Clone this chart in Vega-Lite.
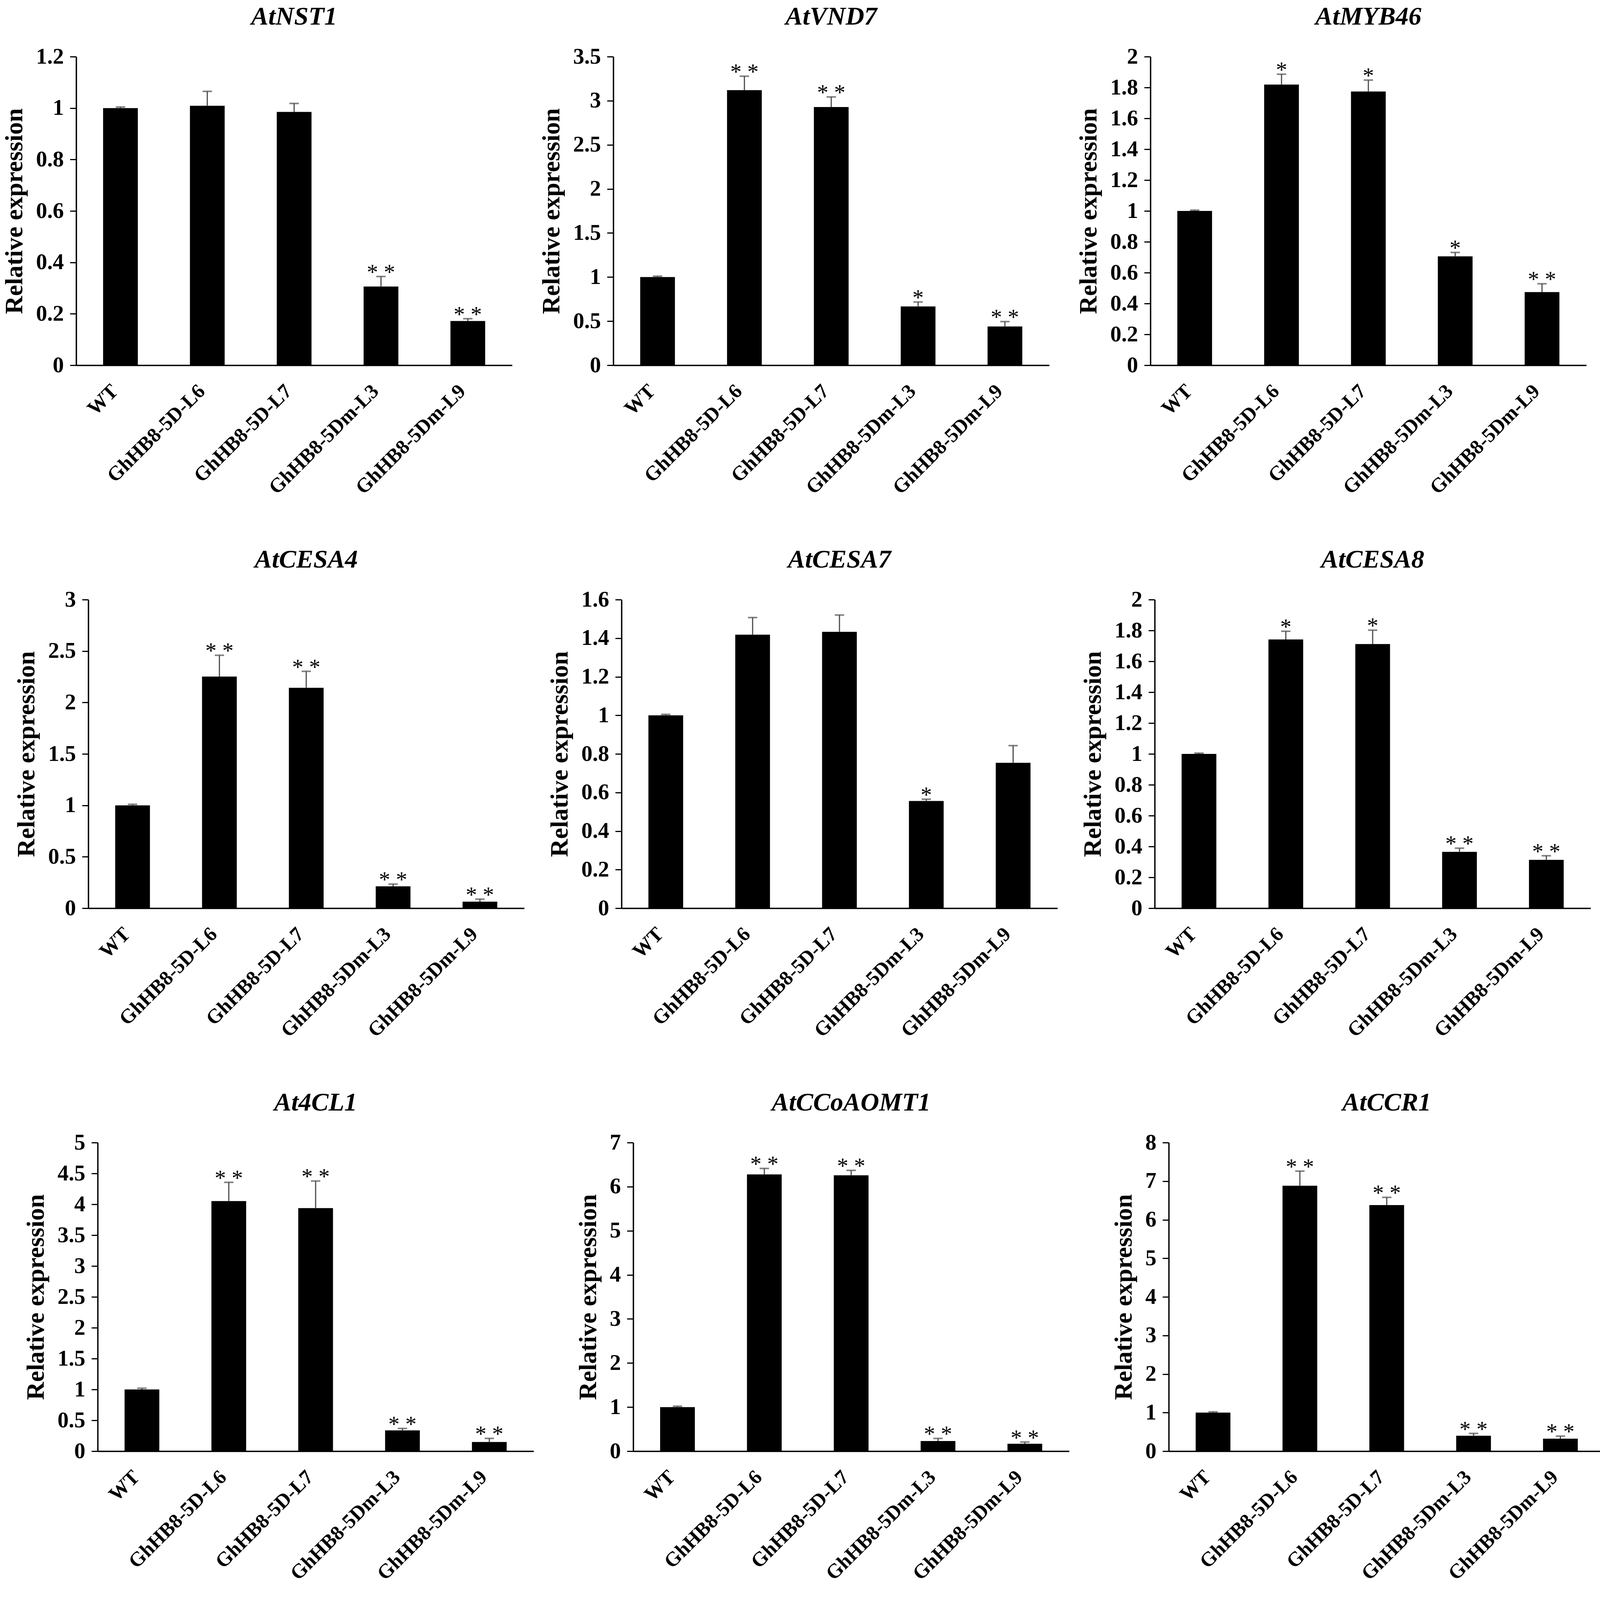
{
  "$schema": "https://vega.github.io/schema/vega-lite/v6.json",
  "background": "white",
  "padding": {"left": -70, "top": 10, "right": 5, "bottom": 5},
  "spacing": 125,
  "datasets": {
    "expr": [
      {"gene": "AtNST1", "line": "WT", "value": 1.0, "hi": 1.004, "sig": ""},
      {"gene": "AtNST1", "line": "GhHB8-5D-L6", "value": 1.009, "hi": 1.065, "sig": ""},
      {"gene": "AtNST1", "line": "GhHB8-5D-L7", "value": 0.985, "hi": 1.018, "sig": ""},
      {"gene": "AtNST1", "line": "GhHB8-5Dm-L3", "value": 0.306, "hi": 0.345, "sig": "* *"},
      {"gene": "AtNST1", "line": "GhHB8-5Dm-L9", "value": 0.172, "hi": 0.181, "sig": "* *"},
      {"gene": "AtVND7", "line": "WT", "value": 1.0, "hi": 1.01, "sig": ""},
      {"gene": "AtVND7", "line": "GhHB8-5D-L6", "value": 3.12, "hi": 3.278, "sig": "* *"},
      {"gene": "AtVND7", "line": "GhHB8-5D-L7", "value": 2.928, "hi": 3.043, "sig": "* *"},
      {"gene": "AtVND7", "line": "GhHB8-5Dm-L3", "value": 0.667, "hi": 0.717, "sig": "*"},
      {"gene": "AtVND7", "line": "GhHB8-5Dm-L9", "value": 0.44, "hi": 0.495, "sig": "* *"},
      {"gene": "AtMYB46", "line": "WT", "value": 1.0, "hi": 1.005, "sig": ""},
      {"gene": "AtMYB46", "line": "GhHB8-5D-L6", "value": 1.819, "hi": 1.886, "sig": "*"},
      {"gene": "AtMYB46", "line": "GhHB8-5D-L7", "value": 1.774, "hi": 1.848, "sig": "*"},
      {"gene": "AtMYB46", "line": "GhHB8-5Dm-L3", "value": 0.706, "hi": 0.731, "sig": "*"},
      {"gene": "AtMYB46", "line": "GhHB8-5Dm-L9", "value": 0.474, "hi": 0.528, "sig": "* *"},
      {"gene": "AtCESA4", "line": "WT", "value": 1.0, "hi": 1.01, "sig": ""},
      {"gene": "AtCESA4", "line": "GhHB8-5D-L6", "value": 2.252, "hi": 2.459, "sig": "* *"},
      {"gene": "AtCESA4", "line": "GhHB8-5D-L7", "value": 2.143, "hi": 2.303, "sig": "* *"},
      {"gene": "AtCESA4", "line": "GhHB8-5Dm-L3", "value": 0.213, "hi": 0.234, "sig": "* *"},
      {"gene": "AtCESA4", "line": "GhHB8-5Dm-L9", "value": 0.064, "hi": 0.088, "sig": "* *"},
      {"gene": "AtCESA7", "line": "WT", "value": 1.0, "hi": 1.005, "sig": ""},
      {"gene": "AtCESA7", "line": "GhHB8-5D-L6", "value": 1.418, "hi": 1.507, "sig": ""},
      {"gene": "AtCESA7", "line": "GhHB8-5D-L7", "value": 1.433, "hi": 1.52, "sig": ""},
      {"gene": "AtCESA7", "line": "GhHB8-5Dm-L3", "value": 0.556, "hi": 0.565, "sig": "*"},
      {"gene": "AtCESA7", "line": "GhHB8-5Dm-L9", "value": 0.754, "hi": 0.843, "sig": ""},
      {"gene": "AtCESA8", "line": "WT", "value": 1.0, "hi": 1.005, "sig": ""},
      {"gene": "AtCESA8", "line": "GhHB8-5D-L6", "value": 1.742, "hi": 1.795, "sig": "*"},
      {"gene": "AtCESA8", "line": "GhHB8-5D-L7", "value": 1.712, "hi": 1.802, "sig": "*"},
      {"gene": "AtCESA8", "line": "GhHB8-5Dm-L3", "value": 0.365, "hi": 0.389, "sig": "* *"},
      {"gene": "AtCESA8", "line": "GhHB8-5Dm-L9", "value": 0.313, "hi": 0.34, "sig": "* *"},
      {"gene": "At4CL1", "line": "WT", "value": 1.0, "hi": 1.02, "sig": ""},
      {"gene": "At4CL1", "line": "GhHB8-5D-L6", "value": 4.053, "hi": 4.356, "sig": "* *"},
      {"gene": "At4CL1", "line": "GhHB8-5D-L7", "value": 3.939, "hi": 4.377, "sig": "* *"},
      {"gene": "At4CL1", "line": "GhHB8-5Dm-L3", "value": 0.337, "hi": 0.368, "sig": "* *"},
      {"gene": "At4CL1", "line": "GhHB8-5Dm-L9", "value": 0.148, "hi": 0.207, "sig": "* *"},
      {"gene": "AtCCoAOMT1", "line": "WT", "value": 1.0, "hi": 1.02, "sig": ""},
      {"gene": "AtCCoAOMT1", "line": "GhHB8-5D-L6", "value": 6.278, "hi": 6.413, "sig": "* *"},
      {"gene": "AtCCoAOMT1", "line": "GhHB8-5D-L7", "value": 6.258, "hi": 6.37, "sig": "* *"},
      {"gene": "AtCCoAOMT1", "line": "GhHB8-5Dm-L3", "value": 0.231, "hi": 0.289, "sig": "* *"},
      {"gene": "AtCCoAOMT1", "line": "GhHB8-5Dm-L9", "value": 0.169, "hi": 0.207, "sig": "* *"},
      {"gene": "AtCCR1", "line": "WT", "value": 1.0, "hi": 1.02, "sig": ""},
      {"gene": "AtCCR1", "line": "GhHB8-5D-L6", "value": 6.88, "hi": 7.26, "sig": "* *"},
      {"gene": "AtCCR1", "line": "GhHB8-5D-L7", "value": 6.38, "hi": 6.58, "sig": "* *"},
      {"gene": "AtCCR1", "line": "GhHB8-5Dm-L3", "value": 0.4, "hi": 0.46, "sig": "* *"},
      {"gene": "AtCCR1", "line": "GhHB8-5Dm-L9", "value": 0.325, "hi": 0.39, "sig": "* *"}
    ]
  },
  "vconcat": [
    {
      "spacing": 69,
      "hconcat": [
        {"width": 6, "height": 10, "data": {"values": [{"a": 1}]}, "mark": {"type": "point", "opacity": 0, "size": 1}},
        {
          "title": "AtNST1", "width": 1116, "height": 790, "data": {"name": "expr"},
          "transform": [{"filter": "datum.gene === 'AtNST1'"}],
          "encoding": {
            "x": {"field": "line", "type": "nominal", "sort": ["WT", "GhHB8-5D-L6", "GhHB8-5D-L7", "GhHB8-5Dm-L3", "GhHB8-5Dm-L9"], "axis": {"title": null}},
            "y": {"field": "value", "type": "quantitative", "title": "Relative expression", "scale": {"domain": [0, 1.2]}, "axis": {"format": "~g", "values": [0, 0.2, 0.4, 0.6, 0.8, 1, 1.2]}}
          },
          "layer": [
            {"mark": {"type": "bar", "color": "black"}},
            {"mark": {"type": "rule", "color": "#4d4d4d", "strokeWidth": 3}, "encoding": {"y": {"field": "hi", "type": "quantitative", "title": "Relative expression"}, "y2": {"field": "value"}}},
            {"mark": {"type": "tick", "color": "#4d4d4d", "thickness": 4, "size": 24}, "encoding": {"y": {"field": "hi", "type": "quantitative", "title": "Relative expression"}}},
            {"mark": {"type": "text", "font": "Liberation Serif", "fontSize": 58, "baseline": "alphabetic", "dy": 8, "color": "black"}, "encoding": {"y": {"field": "hi", "type": "quantitative", "title": "Relative expression"}, "text": {"field": "sig"}}}
          ]
        },
        {
          "title": "AtVND7", "width": 1116, "height": 790, "data": {"name": "expr"},
          "transform": [{"filter": "datum.gene === 'AtVND7'"}],
          "encoding": {
            "x": {"field": "line", "type": "nominal", "sort": ["WT", "GhHB8-5D-L6", "GhHB8-5D-L7", "GhHB8-5Dm-L3", "GhHB8-5Dm-L9"], "axis": {"title": null}},
            "y": {"field": "value", "type": "quantitative", "title": "Relative expression", "scale": {"domain": [0, 3.5]}, "axis": {"format": "~g", "values": [0, 0.5, 1, 1.5, 2, 2.5, 3, 3.5]}}
          },
          "layer": [
            {"mark": {"type": "bar", "color": "black"}},
            {"mark": {"type": "rule", "color": "#4d4d4d", "strokeWidth": 3}, "encoding": {"y": {"field": "hi", "type": "quantitative", "title": "Relative expression"}, "y2": {"field": "value"}}},
            {"mark": {"type": "tick", "color": "#4d4d4d", "thickness": 4, "size": 24}, "encoding": {"y": {"field": "hi", "type": "quantitative", "title": "Relative expression"}}},
            {"mark": {"type": "text", "font": "Liberation Serif", "fontSize": 58, "baseline": "alphabetic", "dy": 8, "color": "black"}, "encoding": {"y": {"field": "hi", "type": "quantitative", "title": "Relative expression"}, "text": {"field": "sig"}}}
          ]
        },
        {
          "title": "AtMYB46", "width": 1116, "height": 790, "data": {"name": "expr"},
          "transform": [{"filter": "datum.gene === 'AtMYB46'"}],
          "encoding": {
            "x": {"field": "line", "type": "nominal", "sort": ["WT", "GhHB8-5D-L6", "GhHB8-5D-L7", "GhHB8-5Dm-L3", "GhHB8-5Dm-L9"], "axis": {"title": null}},
            "y": {"field": "value", "type": "quantitative", "title": "Relative expression", "scale": {"domain": [0, 2]}, "axis": {"format": "~g", "values": [0, 0.2, 0.4, 0.6, 0.8, 1, 1.2, 1.4, 1.6, 1.8, 2]}}
          },
          "layer": [
            {"mark": {"type": "bar", "color": "black"}},
            {"mark": {"type": "rule", "color": "#4d4d4d", "strokeWidth": 3}, "encoding": {"y": {"field": "hi", "type": "quantitative", "title": "Relative expression"}, "y2": {"field": "value"}}},
            {"mark": {"type": "tick", "color": "#4d4d4d", "thickness": 4, "size": 24}, "encoding": {"y": {"field": "hi", "type": "quantitative", "title": "Relative expression"}}},
            {"mark": {"type": "text", "font": "Liberation Serif", "fontSize": 58, "baseline": "alphabetic", "dy": 8, "color": "black"}, "encoding": {"y": {"field": "hi", "type": "quantitative", "title": "Relative expression"}, "text": {"field": "sig"}}}
          ]
        }
      ]
    },
    {
      "spacing": 59,
      "hconcat": [
        {"width": 47, "height": 10, "data": {"values": [{"a": 1}]}, "mark": {"type": "point", "opacity": 0, "size": 1}},
        {
          "title": "AtCESA4", "width": 1116, "height": 790, "data": {"name": "expr"},
          "transform": [{"filter": "datum.gene === 'AtCESA4'"}],
          "encoding": {
            "x": {"field": "line", "type": "nominal", "sort": ["WT", "GhHB8-5D-L6", "GhHB8-5D-L7", "GhHB8-5Dm-L3", "GhHB8-5Dm-L9"], "axis": {"title": null}},
            "y": {"field": "value", "type": "quantitative", "title": "Relative expression", "scale": {"domain": [0, 3]}, "axis": {"format": "~g", "values": [0, 0.5, 1, 1.5, 2, 2.5, 3]}}
          },
          "layer": [
            {"mark": {"type": "bar", "color": "black"}},
            {"mark": {"type": "rule", "color": "#4d4d4d", "strokeWidth": 3}, "encoding": {"y": {"field": "hi", "type": "quantitative", "title": "Relative expression"}, "y2": {"field": "value"}}},
            {"mark": {"type": "tick", "color": "#4d4d4d", "thickness": 4, "size": 24}, "encoding": {"y": {"field": "hi", "type": "quantitative", "title": "Relative expression"}}},
            {"mark": {"type": "text", "font": "Liberation Serif", "fontSize": 58, "baseline": "alphabetic", "dy": 8, "color": "black"}, "encoding": {"y": {"field": "hi", "type": "quantitative", "title": "Relative expression"}, "text": {"field": "sig"}}}
          ]
        },
        {
          "title": "AtCESA7", "width": 1116, "height": 790, "data": {"name": "expr"},
          "transform": [{"filter": "datum.gene === 'AtCESA7'"}],
          "encoding": {
            "x": {"field": "line", "type": "nominal", "sort": ["WT", "GhHB8-5D-L6", "GhHB8-5D-L7", "GhHB8-5Dm-L3", "GhHB8-5Dm-L9"], "axis": {"title": null}},
            "y": {"field": "value", "type": "quantitative", "title": "Relative expression", "scale": {"domain": [0, 1.6]}, "axis": {"format": "~g", "values": [0, 0.2, 0.4, 0.6, 0.8, 1, 1.2, 1.4, 1.6]}}
          },
          "layer": [
            {"mark": {"type": "bar", "color": "black"}},
            {"mark": {"type": "rule", "color": "#4d4d4d", "strokeWidth": 3}, "encoding": {"y": {"field": "hi", "type": "quantitative", "title": "Relative expression"}, "y2": {"field": "value"}}},
            {"mark": {"type": "tick", "color": "#4d4d4d", "thickness": 4, "size": 24}, "encoding": {"y": {"field": "hi", "type": "quantitative", "title": "Relative expression"}}},
            {"mark": {"type": "text", "font": "Liberation Serif", "fontSize": 58, "baseline": "alphabetic", "dy": 8, "color": "black"}, "encoding": {"y": {"field": "hi", "type": "quantitative", "title": "Relative expression"}, "text": {"field": "sig"}}}
          ]
        },
        {
          "title": "AtCESA8", "width": 1116, "height": 790, "data": {"name": "expr"},
          "transform": [{"filter": "datum.gene === 'AtCESA8'"}],
          "encoding": {
            "x": {"field": "line", "type": "nominal", "sort": ["WT", "GhHB8-5D-L6", "GhHB8-5D-L7", "GhHB8-5Dm-L3", "GhHB8-5Dm-L9"], "axis": {"title": null}},
            "y": {"field": "value", "type": "quantitative", "title": "Relative expression", "scale": {"domain": [0, 2]}, "axis": {"format": "~g", "values": [0, 0.2, 0.4, 0.6, 0.8, 1, 1.2, 1.4, 1.6, 1.8, 2]}}
          },
          "layer": [
            {"mark": {"type": "bar", "color": "black"}},
            {"mark": {"type": "rule", "color": "#4d4d4d", "strokeWidth": 3}, "encoding": {"y": {"field": "hi", "type": "quantitative", "title": "Relative expression"}, "y2": {"field": "value"}}},
            {"mark": {"type": "tick", "color": "#4d4d4d", "thickness": 4, "size": 24}, "encoding": {"y": {"field": "hi", "type": "quantitative", "title": "Relative expression"}}},
            {"mark": {"type": "text", "font": "Liberation Serif", "fontSize": 58, "baseline": "alphabetic", "dy": 8, "color": "black"}, "encoding": {"y": {"field": "hi", "type": "quantitative", "title": "Relative expression"}, "text": {"field": "sig"}}}
          ]
        }
      ]
    },
    {
      "spacing": 108,
      "hconcat": [
        {"width": 22, "height": 10, "data": {"values": [{"a": 1}]}, "mark": {"type": "point", "opacity": 0, "size": 1}},
        {
          "title": "At4CL1", "width": 1116, "height": 790, "data": {"name": "expr"},
          "transform": [{"filter": "datum.gene === 'At4CL1'"}],
          "encoding": {
            "x": {"field": "line", "type": "nominal", "sort": ["WT", "GhHB8-5D-L6", "GhHB8-5D-L7", "GhHB8-5Dm-L3", "GhHB8-5Dm-L9"], "axis": {"title": null}},
            "y": {"field": "value", "type": "quantitative", "title": "Relative expression", "scale": {"domain": [0, 5]}, "axis": {"format": "~g", "values": [0, 0.5, 1, 1.5, 2, 2.5, 3, 3.5, 4, 4.5, 5]}}
          },
          "layer": [
            {"mark": {"type": "bar", "color": "black"}},
            {"mark": {"type": "rule", "color": "#4d4d4d", "strokeWidth": 3}, "encoding": {"y": {"field": "hi", "type": "quantitative", "title": "Relative expression"}, "y2": {"field": "value"}}},
            {"mark": {"type": "tick", "color": "#4d4d4d", "thickness": 4, "size": 24}, "encoding": {"y": {"field": "hi", "type": "quantitative", "title": "Relative expression"}}},
            {"mark": {"type": "text", "font": "Liberation Serif", "fontSize": 58, "baseline": "alphabetic", "dy": 8, "color": "black"}, "encoding": {"y": {"field": "hi", "type": "quantitative", "title": "Relative expression"}, "text": {"field": "sig"}}}
          ]
        },
        {
          "title": "AtCCoAOMT1", "width": 1116, "height": 790, "data": {"name": "expr"},
          "transform": [{"filter": "datum.gene === 'AtCCoAOMT1'"}],
          "encoding": {
            "x": {"field": "line", "type": "nominal", "sort": ["WT", "GhHB8-5D-L6", "GhHB8-5D-L7", "GhHB8-5Dm-L3", "GhHB8-5Dm-L9"], "axis": {"title": null}},
            "y": {"field": "value", "type": "quantitative", "title": "Relative expression", "scale": {"domain": [0, 7]}, "axis": {"format": "~g", "values": [0, 1, 2, 3, 4, 5, 6, 7]}}
          },
          "layer": [
            {"mark": {"type": "bar", "color": "black"}},
            {"mark": {"type": "rule", "color": "#4d4d4d", "strokeWidth": 3}, "encoding": {"y": {"field": "hi", "type": "quantitative", "title": "Relative expression"}, "y2": {"field": "value"}}},
            {"mark": {"type": "tick", "color": "#4d4d4d", "thickness": 4, "size": 24}, "encoding": {"y": {"field": "hi", "type": "quantitative", "title": "Relative expression"}}},
            {"mark": {"type": "text", "font": "Liberation Serif", "fontSize": 58, "baseline": "alphabetic", "dy": 8, "color": "black"}, "encoding": {"y": {"field": "hi", "type": "quantitative", "title": "Relative expression"}, "text": {"field": "sig"}}}
          ]
        },
        {
          "title": "AtCCR1", "width": 1116, "height": 790, "data": {"name": "expr"},
          "transform": [{"filter": "datum.gene === 'AtCCR1'"}],
          "encoding": {
            "x": {"field": "line", "type": "nominal", "sort": ["WT", "GhHB8-5D-L6", "GhHB8-5D-L7", "GhHB8-5Dm-L3", "GhHB8-5Dm-L9"], "axis": {"title": null}},
            "y": {"field": "value", "type": "quantitative", "title": "Relative expression", "scale": {"domain": [0, 8]}, "axis": {"format": "~g", "values": [0, 1, 2, 3, 4, 5, 6, 7, 8]}}
          },
          "layer": [
            {"mark": {"type": "bar", "color": "black"}},
            {"mark": {"type": "rule", "color": "#4d4d4d", "strokeWidth": 3}, "encoding": {"y": {"field": "hi", "type": "quantitative", "title": "Relative expression"}, "y2": {"field": "value"}}},
            {"mark": {"type": "tick", "color": "#4d4d4d", "thickness": 4, "size": 24}, "encoding": {"y": {"field": "hi", "type": "quantitative", "title": "Relative expression"}}},
            {"mark": {"type": "text", "font": "Liberation Serif", "fontSize": 58, "baseline": "alphabetic", "dy": 8, "color": "black"}, "encoding": {"y": {"field": "hi", "type": "quantitative", "title": "Relative expression"}, "text": {"field": "sig"}}}
          ]
        }
      ]
    }
  ],
  "config": {
    "view": {"stroke": null},
    "font": "Liberation Serif",
    "scale": {"bandPaddingInner": 0.6, "bandPaddingOuter": 0.31},
    "title": {"font": "Liberation Serif", "fontSize": 66, "fontWeight": "bold", "fontStyle": "italic", "color": "black", "frame": "group", "anchor": "middle", "offset": 39},
    "axis": {"domainColor": "black", "domainWidth": 3.5, "labelFont": "Liberation Serif", "labelFontWeight": "bold", "labelColor": "black", "titleFont": "Liberation Serif", "titleColor": "black", "grid": false, "labelOverlap": false, "labelLimit": 0},
    "axisY": {"tickColor": "black", "tickWidth": 3, "tickSize": 16, "labelFontSize": 57, "labelPadding": 16, "titleFontSize": 64, "titleFontWeight": "bold", "titlePadding": 22},
    "axisX": {"ticks": false, "labelAngle": -45, "labelFontSize": 52, "labelPadding": 40, "labelOffset": -32}
  }
}
